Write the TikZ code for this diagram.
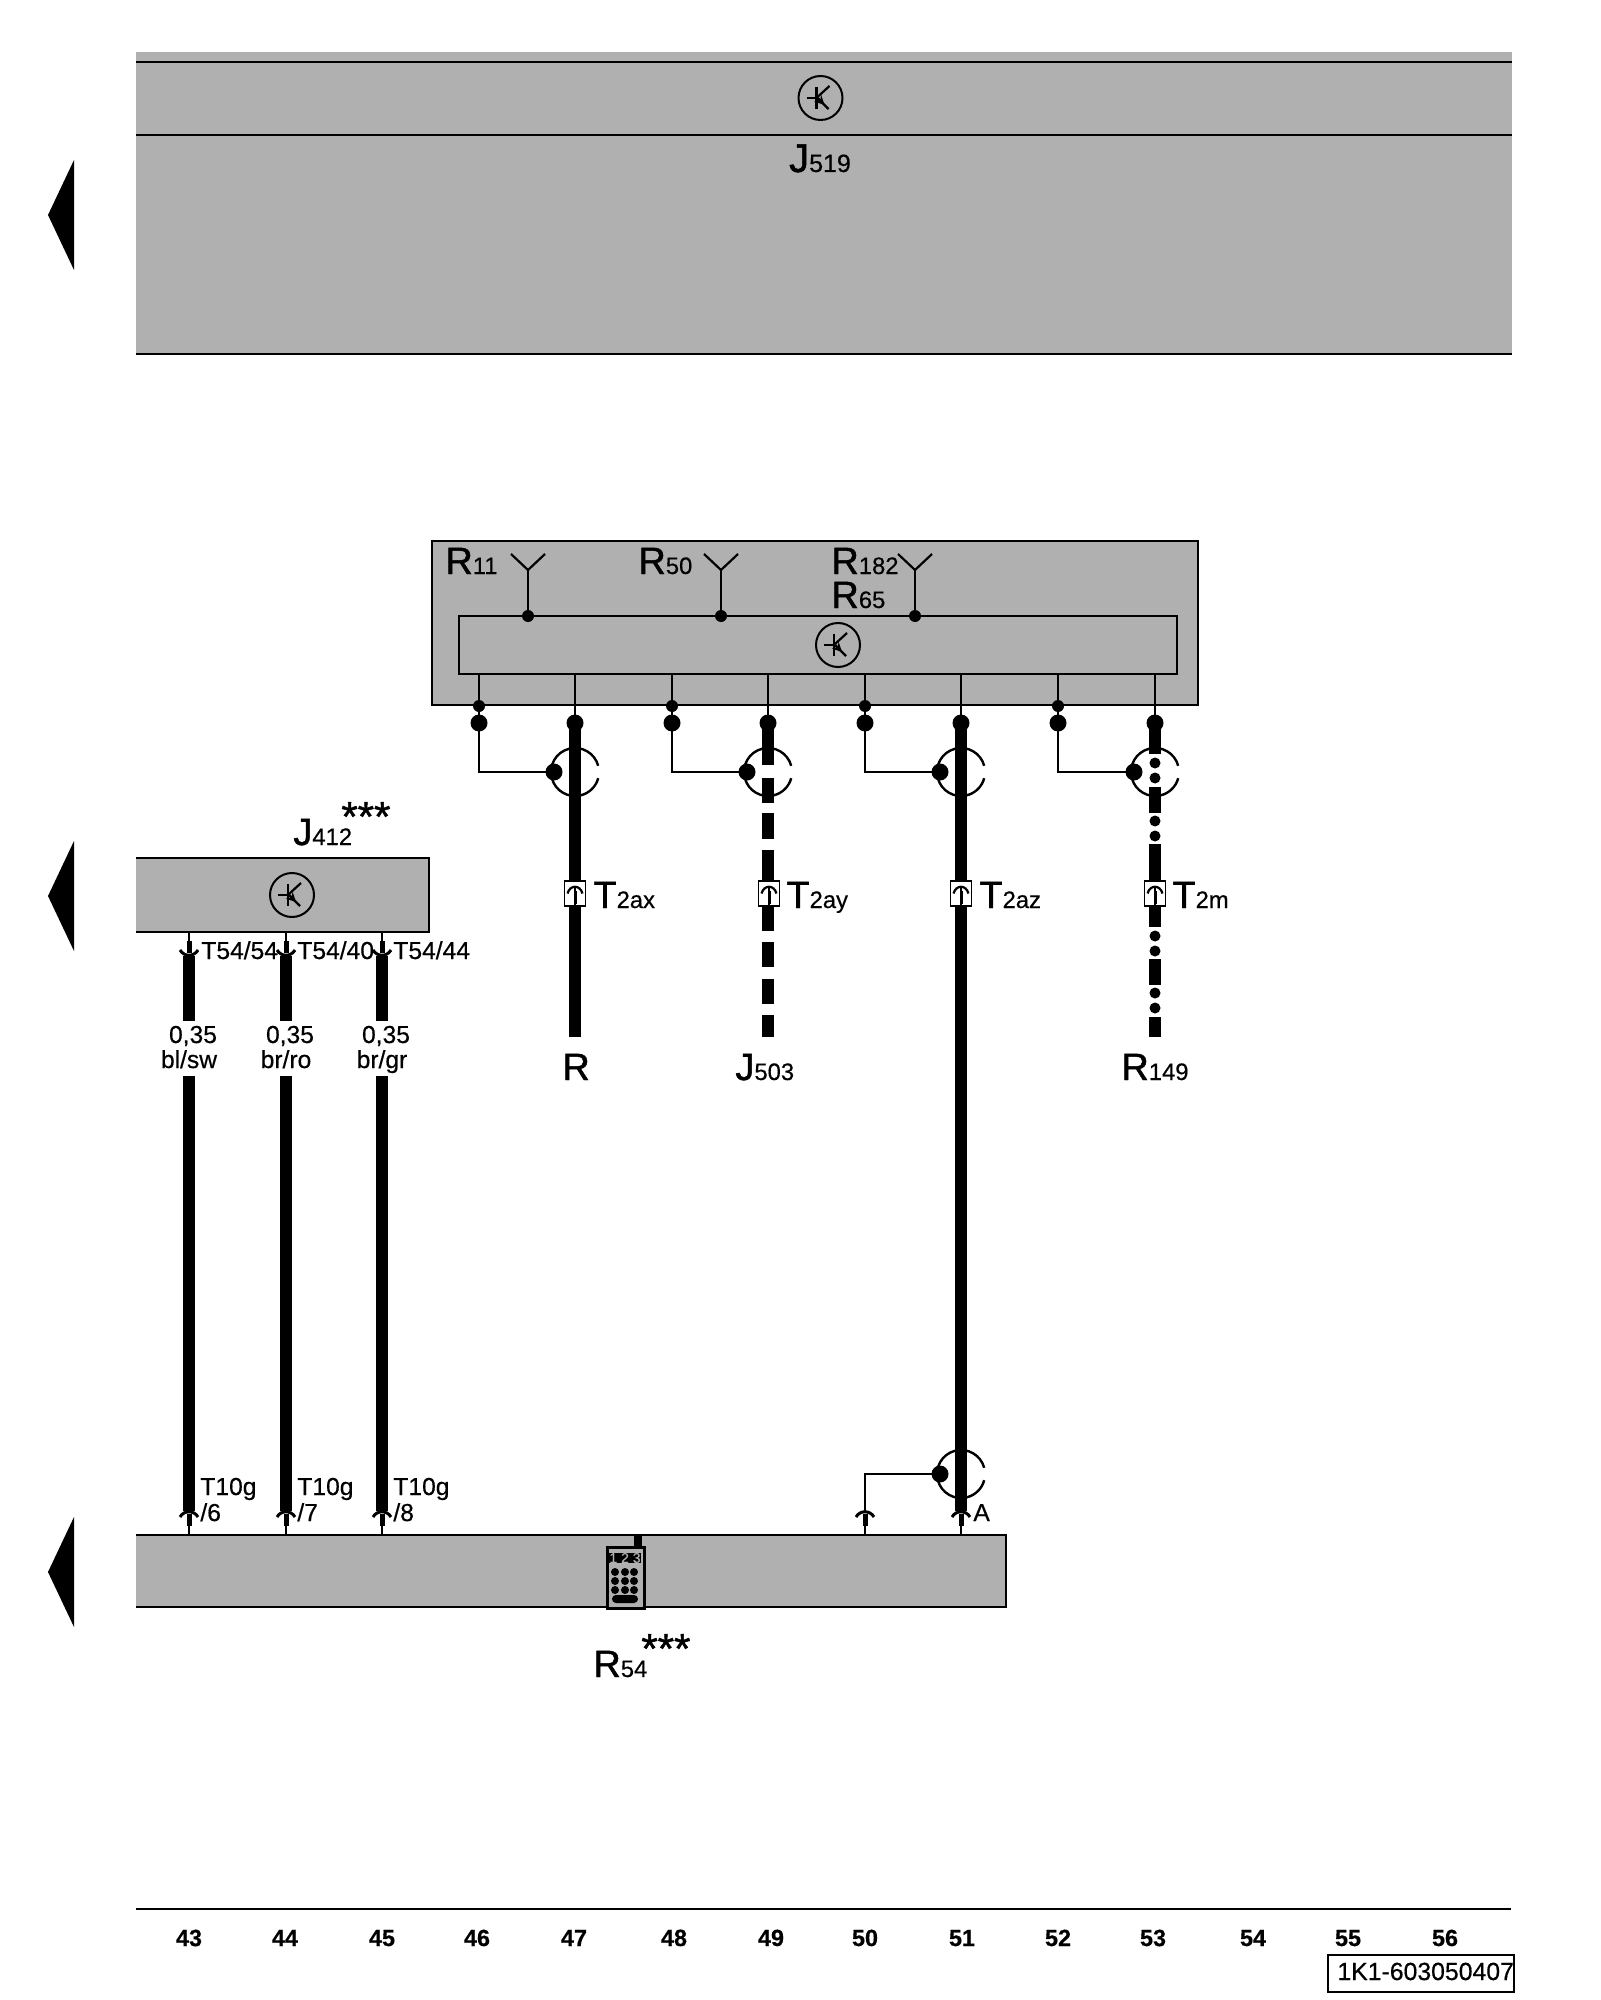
\documentclass[tikz,border=0pt]{standalone}
\usepackage{fontspec}
\setmainfont[FakeBold=0.5]{Liberation Sans}
\newfontfamily\heavyfont[FakeBold=1.2]{Liberation Sans}
\usetikzlibrary{arrows}

\definecolor{unitgrey}{HTML}{B0B0B0}

\newcommand{\partlbl}[2]{{\heavyfont\fontsize{19}{19}\selectfont #1}{\fontsize{11.9}{12}\selectfont #2}}
\newcommand{\gaugelbl}[2]{\rule{0pt}{10.75pt}\hspace*{4pt}#1\\#2\rule[-3.75pt]{0pt}{3.75pt}}

\begin{document}
\begin{tikzpicture}[x=0.5pt, y=-0.5pt]
    % Define styles
    \tikzstyle{unit} = [rectangle, fill=unitgrey, anchor=north west, inner sep=0pt, outer sep=0pt]
    \tikzstyle{rim} = [line width=1.1pt]
    \tikzstyle{lead} = [line width=1.1pt]
    \tikzstyle{wire} = [line width=6.2pt]
    \tikzstyle{wirea} = [wire, dash pattern=on 21pt off 6.5pt on 12.5pt off 5pt on 13pt off 5.5pt on 40.5pt off 5.5pt on 12.5pt off 6pt on 12.5pt off 5.5pt on 11pt]
    \tikzstyle{wireb} = [wire, dash pattern=on 15.5pt off 16.5pt on 13pt off 15.5pt on 41.5pt off 16pt on 13pt off 16pt on 10pt]
    \tikzstyle{stud} = [circle, fill=black, inner sep=0pt, minimum size=6pt]
    \tikzstyle{knob} = [circle, fill=black, inner sep=0pt, minimum size=8.5pt]
    \tikzstyle{bead} = [circle, fill=black, inner sep=0pt, minimum size=5.5pt]
    \tikzstyle{key} = [circle, fill=black, inner sep=0pt, minimum size=4pt]
    \tikzstyle{small} = [anchor=base west, inner sep=0pt, font=\fontsize{12.3}{12.5}\selectfont]
    \tikzstyle{big} = [anchor=base west, inner sep=0pt]
    \tikzstyle{stars} = [anchor=base west, inner sep=0pt, font=\heavyfont\fontsize{21}{21}\selectfont]
    \tikzstyle{gauge} = [inner sep=0pt, align=center, font=\fontsize{12.3}{12.5}\selectfont]
    \tikzstyle{col} = [anchor=base, inner sep=0pt, font=\fontsize{11.7}{12}\selectfont\bfseries]
    \tikzset{
        pointer/.pic={\fill (0,-55) -- (-26,0) -- (0,55) -- cycle;},
        chip/.pic={
            \node [circle, draw, line width=1pt, minimum size=22pt, inner sep=0pt] (-disc) {};
            \draw [lead] (-14,0) -- (-4,0);
            \draw [lead] (-4,-11) -- (-4,11);
            \draw [lead] (-3,-1) -- (9,-12);
            \draw [lead] (-3,0) -- (8,11);
            \draw [lead,->,>=stealth] (-3,0) -- (4,7);
        },
        aerial/.pic={
            \coordinate (-foot) at (0,0);
            \draw [lead] (-17,-16) -- (0,0) -- (17,-16);
        },
        tap/.pic={\draw [line width=1.2pt] (15:12pt) arc [start angle=15, end angle=345, radius=12pt];},
        pin/.pic={
            \coordinate (-end) at (0,-24);
            \draw [lead] (0,0) -- (0,-9);
            \draw [line width=2.5pt] (0,-9) -- (0,-21);
            \draw [line width=1.5pt] (-9,-18) .. controls (-5,-25) and (5,-25) .. (9,-18);
        },
        plug/.pic={
            \node [rectangle, draw, fill=white, line width=0.8pt, minimum width=10.5pt, minimum height=12.5pt, inner sep=0pt] (-case) {};
            \draw [lead] (-7.5,0) .. controls (-5,-9) and (5,-9) .. (7.5,0);
            \draw [lead] (0,-6) -- (0,12);
            \draw [line width=1.5pt] (0,-3) -- (0,10);
        }
    }
    \useasboundingbox (0,0) rectangle (1600,2000);

    % Units
    \node [unit, minimum width=688pt, minimum height=151pt] (gateway) at (136,52) {};
    \node [unit, minimum width=146.5pt, minimum height=37pt] (phonebox) at (136,858) {};
    \node [unit, minimum width=435pt, minimum height=36pt] (handset) at (136,1535) {};
    \node [unit, draw, line width=1pt, minimum width=383pt, minimum height=82pt] (radio) at (432,541) {};
    \node [unit, draw, line width=1pt, minimum width=359pt, minimum height=29pt] (tuner) at (459,616) {};
    \draw [rim] ([yshift=-5pt]gateway.north west) -- ([yshift=-5pt]gateway.north east);
    \draw [rim] ([yshift=-41.5pt]gateway.north west) -- ([yshift=-41.5pt]gateway.north east);
    \draw [rim] (gateway.south west) -- (gateway.south east);
    \draw [rim] (phonebox.north west) -- (phonebox.north east) -- (phonebox.south east) -- (phonebox.south west);
    \draw [rim] (handset.north west) -- (handset.north east) -- (handset.south east) -- (handset.south west);

    % Symbols in the units
    \pic at (74,215) {pointer};
    \pic at (74,896) {pointer};
    \pic at (74,1572) {pointer};
    \pic (chipa) at (820.5,98) {chip};
    \pic (chipb) at (838,645) {chip};
    \pic (chipc) at (292,895) {chip};

    % Aerials
    \node [stud] (da) at (528,616) {};
    \node [stud] (db) at (721,616) {};
    \node [stud] (dc) at (915,616) {};
    \pic (aa) at (528,570) {aerial};
    \pic (ab) at (721,570) {aerial};
    \pic (ac) at (915,570) {aerial};
    \draw [lead] (da.center) -- (aa-foot);
    \draw [lead] (db.center) -- (ab-foot);
    \draw [lead] (dc.center) -- (ac-foot);

    % Pin nodes
    \node [stud] (sa) at (479,706) {};
    \node [stud] (sb) at (672,706) {};
    \node [stud] (sc) at (865,706) {};
    \node [stud] (sd) at (1058,706) {};
    \node [knob] (ka) at (479,723) {};
    \node [knob] (kb) at (672,723) {};
    \node [knob] (kc) at (865,723) {};
    \node [knob] (kd) at (1058,723) {};
    \node [knob] (wa) at (575,723) {};
    \node [knob] (wb) at (768,723) {};
    \node [knob] (wc) at (961,723) {};
    \node [knob] (wd) at (1155,723) {};
    \node [knob] (ja) at (554,772) {};
    \node [knob] (jb) at (747,772) {};
    \node [knob] (jc) at (940,772) {};
    \node [knob] (jd) at (1134,772) {};
    \node [knob] (je) at (940,1474) {};
    \coordinate (enda) at (575,1037);
    \coordinate (endb) at (768,1037);
    \coordinate (endd) at (1155,1037);
    \pic [yscale=-1] (pa) at (189,932) {pin};
    \pic [yscale=-1] (pb) at (286,932) {pin};
    \pic [yscale=-1] (pc) at (382,932) {pin};
    \pic (qa) at (189,1535) {pin};
    \pic (qb) at (286,1535) {pin};
    \pic (qc) at (382,1535) {pin};
    \pic (qd) at (865,1535) {pin};
    \pic (qe) at (961,1535) {pin};
    \node [gauge] (ga) at (189,1048.5) {\gaugelbl{0,35}{bl/sw}};
    \node [gauge] (gb) at (286,1048.5) {\gaugelbl{0,35}{br/ro}};
    \node [gauge] (gc) at (382,1048.5) {\gaugelbl{0,35}{br/gr}};

    % Connectors
    \draw [lead] (sa |- tuner.south) -- (ka.center);
    \draw [lead] (sb |- tuner.south) -- (kb.center);
    \draw [lead] (sc |- tuner.south) -- (kc.center);
    \draw [lead] (sd |- tuner.south) -- (kd.center);
    \draw [lead] (wa |- tuner.south) -- (wa.center);
    \draw [lead] (wb |- tuner.south) -- (wb.center);
    \draw [lead] (wc |- tuner.south) -- (wc.center);
    \draw [lead] (wd |- tuner.south) -- (wd.center);
    \draw [lead] (ka.center) |- (ja.center);
    \draw [lead] (kb.center) |- (jb.center);
    \draw [lead] (kc.center) |- (jc.center);
    \draw [lead] (kd.center) |- (jd.center);
    \draw [lead] (qd-end) |- (je.center);
    \draw [wire] (wa.center) -- (enda);
    \draw [wirea] (wb.center) -- (endb);
    \draw [wire] (wc.center) -- (qe-end);
    \draw [wireb] (wd.center) -- (endd);
    \draw [wire] (pa-end) -- (ga.north);
    \draw [wire] (pb-end) -- (gb.north);
    \draw [wire] (pc-end) -- (gc.north);
    \draw [wire] (ga.south) -- (qa-end);
    \draw [wire] (gb.south) -- (qb-end);
    \draw [wire] (gc.south) -- (qc-end);

    % Beads of the dotted wire
    \node [bead] (ba) at (1155,763) {};
    \node [bead] (bb) at (1155,778) {};
    \node [bead] (bc) at (1155,821) {};
    \node [bead] (bd) at (1155,836) {};
    \node [bead] (be) at (1155,936) {};
    \node [bead] (bf) at (1155,951) {};
    \node [bead] (bg) at (1155,993) {};
    \node [bead] (bh) at (1155,1008) {};

    % Taps and plugs on the wires
    \pic at (575,772) {tap};
    \pic at (768,772) {tap};
    \pic at (961,772) {tap};
    \pic at (1155,772) {tap};
    \pic at (961,1474) {tap};
    \pic (plga) at (575,893.5) {plug};
    \pic (plgb) at (769,893.5) {plug};
    \pic (plgc) at (961,893.5) {plug};
    \pic (plgd) at (1155,893.5) {plug};

    % Handset
    \node [rectangle, draw, fill=unitgrey, line width=1.5pt, minimum width=18.5pt, minimum height=30.5pt, inner sep=0pt, anchor=north west] (phone) at (606,1546) {};
    \draw [line width=4pt] (638,1535) -- (638,1546);
    \node [rectangle, fill=black, text=unitgrey, minimum width=15pt, minimum height=5pt, inner sep=0pt, font=\fontsize{7}{7}\selectfont] (screen) at (625,1558) {1 2 3};
    \node [key] (keya) at (615,1572) {};
    \node [key] (keyb) at (625,1572) {};
    \node [key] (keyc) at (634,1572) {};
    \node [key] (keyd) at (615,1581) {};
    \node [key] (keye) at (625,1581) {};
    \node [key] (keyf) at (634,1581) {};
    \node [key] (keyg) at (615,1590) {};
    \node [key] (keyh) at (625,1590) {};
    \node [key] (keyi) at (634,1590) {};
    \node [rectangle, fill=black, rounded corners=2pt, minimum width=13pt, minimum height=4pt, inner sep=0pt] (keybar) at (625,1599) {};

    % Labels
    \node [big, anchor=base] (lgate) at (820,172) {{\heavyfont\fontsize{20}{20}\selectfont J}{\fontsize{12.5}{13}\selectfont 519}};
    \node [big] (lra) at (445,574) {\partlbl{R}{11}};
    \node [big] (lrb) at (638,574) {\partlbl{R}{50}};
    \node [big] (lrc) at (831,574) {\partlbl{R}{182}};
    \node [big] (lrd) at (831,608) {\partlbl{R}{65}};
    \node [big] (lta) at (593,908) {\partlbl{T}{2ax}};
    \node [big] (ltb) at (786,908) {\partlbl{T}{2ay}};
    \node [big] (ltc) at (979,908) {\partlbl{T}{2az}};
    \node [big] (ltd) at (1172,908) {\partlbl{T}{2m}};
    \node [big] (lea) at (562,1080) {\partlbl{R}{}};
    \node [big] (leb) at (735,1080) {\partlbl{J}{503}};
    \node [big] (led) at (1121,1080) {\partlbl{R}{149}};
    \node [big] (lpb) at (293,845) {\partlbl{J}{412}};
    \node [stars] (spb) at (341,831) {***};
    \node [big] (lhs) at (593,1677) {\partlbl{R}{54}};
    \node [stars] (shs) at (641,1663) {***};
    \node [small] (ctaa) at (201,959) {T54/54};
    \node [small] (ctab) at (297,959) {T54/40};
    \node [small] (ctac) at (393,959) {T54/44};
    \node [small] (ctba) at (200,1495) {T10g};
    \node [small] (ctbb) at (297,1495) {T10g};
    \node [small] (ctbc) at (393,1495) {T10g};
    \node [small] (ctca) at (200,1521) {/6};
    \node [small] (ctcb) at (297,1521) {/7};
    \node [small] (ctcc) at (393,1521) {/8};
    \node [small] (cta) at (973,1521) {A};

    % Column numbers
    \coordinate (axisl) at (136,1909);
    \coordinate (axisr) at (1511,1909);
    \draw [rim] (axisl) -- (axisr);
    \node [col] (c43) at (189,1946) {43};
    \node [col] (c44) at (285,1946) {44};
    \node [col] (c45) at (382,1946) {45};
    \node [col] (c46) at (477,1946) {46};
    \node [col] (c47) at (574,1946) {47};
    \node [col] (c48) at (674,1946) {48};
    \node [col] (c49) at (771,1946) {49};
    \node [col] (c50) at (865,1946) {50};
    \node [col] (c51) at (962,1946) {51};
    \node [col] (c52) at (1058,1946) {52};
    \node [col] (c53) at (1153,1946) {53};
    \node [col] (c54) at (1253,1946) {54};
    \node [col] (c55) at (1348,1946) {55};
    \node [col] (c56) at (1445,1946) {56};
    \node [rectangle, draw, line width=1pt, anchor=north west, minimum width=93pt, minimum height=18.5pt, inner sep=0pt] (docbox) at (1327,1954) {};
    \node [small, font=\fontsize{12.4}{13}\selectfont] (docnum) at (1337,1980) {1K1-603050407};
\end{tikzpicture}
\end{document}
